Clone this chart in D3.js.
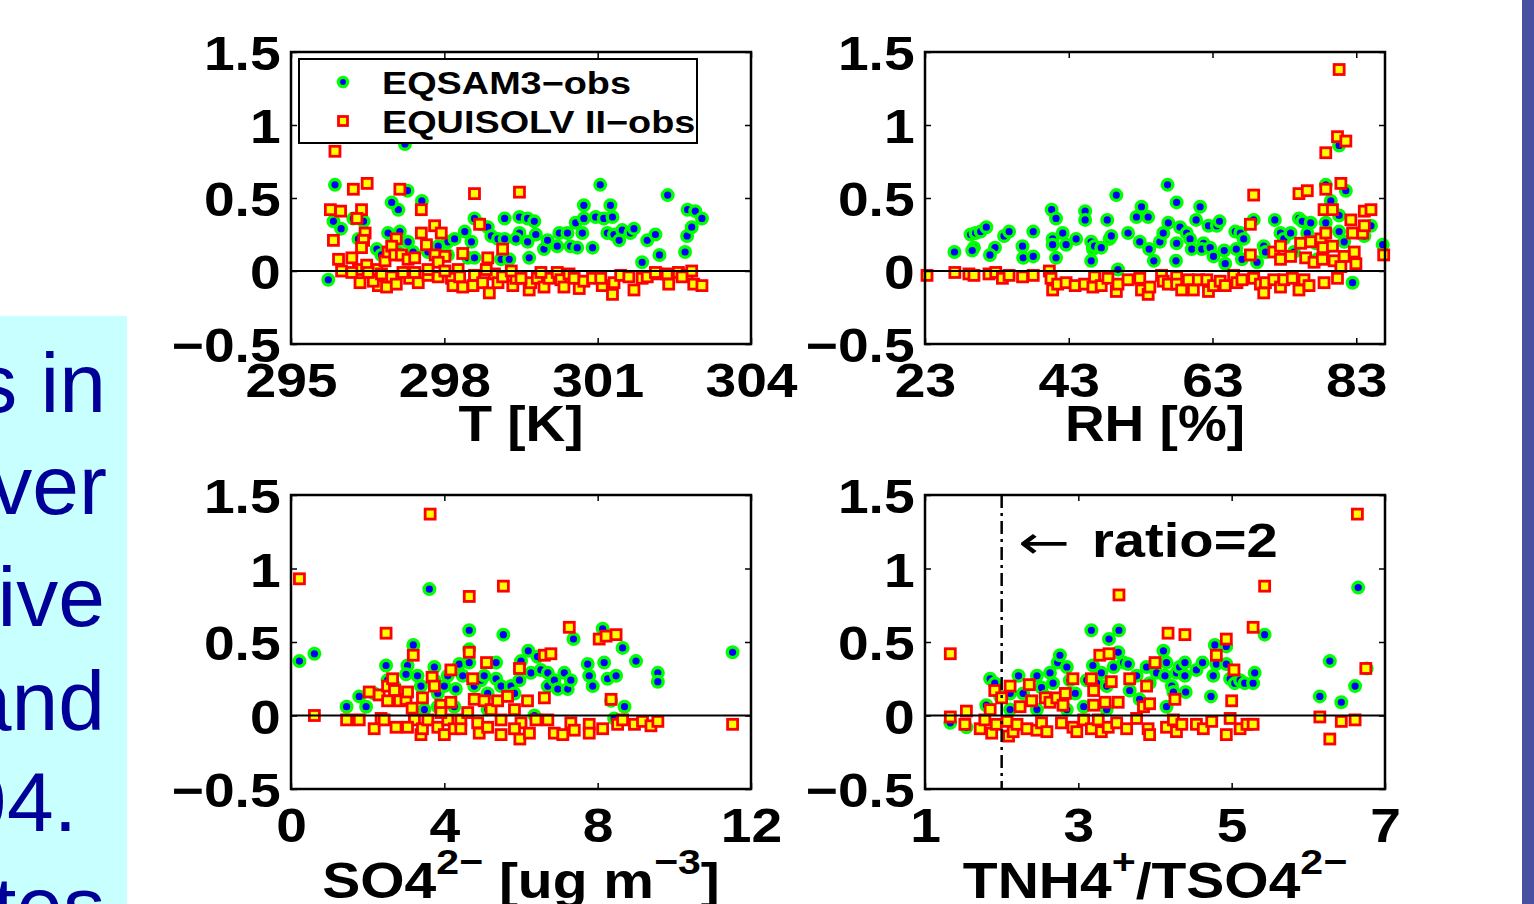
<!DOCTYPE html>
<html>
<head>
<meta charset="utf-8">
<script src="https://cdn.jsdelivr.net/npm/d3@7"></script>
<style>
  html, body { margin: 0; padding: 0; background: #fff; overflow: hidden; }
  svg { display: block; }
  text { white-space: pre; }
</style>
</head>
<body>
<svg id="vizarea"></svg>
<script>
'use strict';

const tempEqsam = [[295.73,-0.06],[295.86,0.59],[295.83,0.34],[295.98,0.29],[297.23,0.87],[297.28,0.55],[297.10,0.42],[296.97,0.47],[297.56,0.48],[296.22,0.36],[296.42,0.34],[296.32,0.22],[296.68,0.15],[296.90,0.26],[297.13,0.27],[297.29,0.20],[297.39,0.13],[298.07,0.20],[298.20,0.22],[298.40,0.27],[298.53,0.20],[298.59,0.36],[298.72,0.32],[298.85,0.30],[298.92,0.24],[299.05,0.22],[299.18,0.36],[299.18,0.22],[299.11,0.08],[299.27,0.08],[299.47,0.37],[299.63,0.36],[299.76,0.34],[299.47,0.26],[299.40,0.22],[299.63,0.20],[299.66,0.09],[299.79,0.25],[299.95,0.15],[300.02,0.21],[300.25,0.26],[300.21,0.17],[300.41,0.26],[300.47,0.17],[300.60,0.16],[300.70,0.26],[300.57,0.33],[300.73,0.36],[300.73,0.45],[300.90,0.16],[300.96,0.37],[301.05,0.59],[301.12,0.36],[301.25,0.45],[301.29,0.37],[301.19,0.26],[301.32,0.25],[301.42,0.21],[301.48,0.28],[301.64,0.26],[301.71,0.29],[301.87,0.06],[301.97,0.21],[302.13,0.25],[302.21,0.11],[302.37,0.52],[302.71,0.13],[302.75,0.24],[302.84,0.30],[302.76,0.42],[302.91,0.41],[303.04,0.36],[298.07,0.11],[298.46,0.09],[298.59,0.09],[297.68,0.13],[297.88,0.17],[296.77,0.11],[297.10,0.13]];
const tempEquisolv = [[295.86,0.82],[295.77,0.42],[295.97,0.41],[295.83,0.21],[295.93,0.08],[296.22,0.56],[296.49,0.60],[296.38,0.42],[296.29,0.36],[296.45,0.26],[296.42,0.21],[296.38,0.16],[296.19,0.09],[296.32,0.01],[295.99,0.00],[296.19,-0.01],[296.35,-0.08],[296.48,0.04],[296.68,0.01],[296.71,-0.10],[296.87,-0.11],[296.84,0.07],[296.90,0.13],[297.06,0.22],[296.97,0.17],[297.13,0.56],[297.03,0.11],[297.16,0.11],[297.29,0.08],[297.42,0.09],[297.55,0.26],[297.55,0.42],[297.65,0.18],[297.81,0.31],[297.94,0.26],[297.82,0.11],[298.01,0.10],[297.88,0.06],[298.36,0.12],[298.27,0.01],[298.59,0.53],[298.69,0.32],[298.85,0.09],[299.14,0.15],[299.47,0.54],[296.97,-0.04],[297.06,-0.09],[297.32,-0.05],[297.49,-0.08],[297.68,-0.03],[297.88,-0.04],[298.14,-0.05],[298.17,-0.10],[298.30,-0.04],[298.36,-0.11],[298.56,-0.10],[298.59,-0.03],[298.75,-0.08],[298.88,-0.15],[298.98,-0.02],[299.05,-0.08],[299.14,-0.04],[299.34,-0.10],[299.40,-0.05],[299.66,-0.13],[299.69,-0.08],[299.82,-0.05],[299.95,-0.11],[300.05,-0.05],[300.21,-0.01],[300.28,-0.06],[300.34,-0.11],[300.44,-0.02],[300.54,-0.05],[300.64,-0.12],[300.73,-0.07],[300.90,-0.05],[301.09,-0.10],[301.29,-0.16],[301.32,-0.08],[301.45,-0.03],[301.61,-0.04],[301.71,-0.13],[301.87,-0.05],[301.97,-0.04],[302.16,-0.02],[302.36,-0.02],[302.39,-0.09],[302.58,-0.01],[302.75,-0.03],[302.84,0.00],[302.88,-0.09],[303.04,-0.10],[302.65,-0.04],[296.61,-0.07],[296.51,-0.01],[296.77,-0.02],[297.19,-0.01],[297.42,-0.01],[297.68,0.01],[298.01,0.00],[298.82,0.01],[299.31,0.00],[299.50,-0.05],[299.89,-0.01],[301.06,-0.05],[302.13,-0.01]];

const rhEqsam = [[27.10,0.13],[29.34,0.25],[30.04,0.26],[30.74,0.27],[31.53,0.30],[29.81,0.16],[29.57,0.14],[32.74,0.16],[32.04,0.11],[34.00,0.24],[34.70,0.27],[36.57,0.17],[36.66,0.09],[38.06,0.27],[38.06,0.10],[40.62,0.42],[41.23,0.36],[40.76,0.22],[40.76,0.18],[41.23,0.09],[42.16,0.26],[42.63,0.18],[44.03,0.22],[45.28,0.41],[45.28,0.35],[46.12,0.20],[46.36,0.15],[46.12,0.07],[46.59,0.17],[47.52,0.16],[48.36,0.35],[48.69,0.22],[48.92,0.24],[49.62,0.52],[51.25,0.26],[52.42,0.37],[52.88,0.20],[53.12,0.44],[54.05,0.37],[54.19,0.15],[54.84,0.07],[55.68,0.20],[56.15,0.26],[56.85,0.33],[56.75,0.59],[57.92,0.07],[58.01,0.47],[58.01,0.19],[58.48,0.30],[59.41,0.26],[59.88,0.22],[60.11,0.15],[60.72,0.35],[61.28,0.44],[61.74,0.19],[61.51,0.15],[62.44,0.31],[62.67,0.16],[63.14,0.10],[63.61,0.31],[63.98,0.34],[64.63,0.14],[64.77,0.05],[66.17,0.27],[66.31,0.15],[66.87,0.26],[67.34,0.22],[67.10,0.08],[68.73,0.35],[69.20,0.06],[70.13,0.17],[70.37,0.13],[71.67,0.35],[72.46,0.26],[72.93,0.22],[73.86,0.26],[75.03,0.36],[75.49,0.34],[76.66,0.33],[76.19,0.26],[77.36,0.19],[78.76,0.59],[78.76,0.33],[79.46,0.48],[80.62,0.38],[80.62,0.27],[80.62,0.86],[81.55,0.55],[81.32,0.20],[82.49,-0.08],[84.12,0.24],[85.05,0.31],[86.68,0.18],[74.33,0.13],[77.59,0.08],[78.99,0.17],[49.85,0.01]];
const rhEquisolv = [[23.28,-0.03],[27.15,-0.01],[29.11,-0.02],[29.81,-0.03],[31.90,-0.02],[32.84,-0.01],[33.77,-0.05],[34.70,-0.03],[36.57,-0.04],[38.06,-0.03],[40.30,0.00],[40.53,-0.05],[40.76,-0.13],[41.46,-0.09],[42.63,-0.08],[43.89,-0.10],[45.19,-0.09],[46.36,-0.11],[46.59,-0.04],[47.52,-0.10],[48.45,-0.05],[49.62,-0.14],[49.85,-0.09],[51.25,-0.06],[52.88,-0.05],[53.12,-0.13],[54.05,-0.16],[54.28,-0.11],[55.91,-0.03],[56.15,-0.07],[56.85,-0.09],[58.01,-0.04],[58.01,-0.09],[58.71,-0.13],[59.64,-0.06],[60.34,-0.13],[61.04,-0.06],[62.21,-0.06],[62.44,-0.14],[63.14,-0.10],[64.07,-0.07],[64.77,-0.10],[65.94,-0.03],[66.40,-0.08],[67.10,-0.06],[68.73,-0.05],[69.67,-0.09],[70.13,-0.15],[70.37,-0.08],[71.53,-0.06],[72.46,-0.11],[72.93,-0.06],[74.10,-0.05],[75.03,-0.13],[75.73,-0.06],[76.43,-0.10],[78.52,-0.08],[80.39,-0.05],[68.27,0.32],[68.73,0.52],[68.27,0.11],[71.53,0.13],[72.46,0.17],[72.46,0.08],[73.86,0.10],[75.03,0.53],[76.19,0.55],[75.26,0.19],[75.96,0.09],[76.66,0.20],[77.13,0.06],[78.06,0.22],[78.38,0.16],[78.52,0.42],[78.76,0.26],[78.29,0.08],[78.76,0.56],[79.69,0.17],[79.69,0.42],[79.92,0.07],[78.76,0.81],[80.39,0.92],[81.55,0.89],[80.62,1.38],[80.86,0.60],[82.25,0.35],[82.49,0.26],[82.72,0.13],[82.95,0.05],[83.89,0.26],[84.12,0.31],[84.12,0.41],[85.05,0.42],[86.82,0.11],[81.32,0.10],[80.86,0.03]];

const so4Eqsam = [[0.22,0.37],[0.61,0.42],[1.45,0.06],[1.78,0.13],[1.96,0.06],[2.48,0.34],[2.52,0.24],[3.04,0.34],[3.00,0.28],[3.19,0.48],[3.30,0.27],[3.39,0.20],[3.74,0.33],[3.74,0.24],[3.83,0.15],[4.00,0.20],[4.09,0.27],[4.30,0.18],[4.39,0.35],[4.48,0.27],[4.65,0.58],[4.65,0.45],[4.65,0.36],[4.78,0.20],[4.96,0.24],[5.04,0.27],[5.13,0.15],[5.35,0.36],[5.35,0.25],[5.48,0.20],[5.54,0.55],[5.74,0.20],[5.83,0.15],[5.96,0.24],[6.00,0.37],[6.19,0.44],[6.26,0.29],[6.43,0.40],[6.52,0.31],[6.70,0.29],[6.70,0.20],[6.87,0.24],[6.96,0.18],[7.13,0.29],[7.22,0.18],[7.30,0.24],[7.37,0.52],[7.74,0.35],[7.78,0.27],[7.87,0.20],[8.13,0.59],[8.17,0.36],[8.26,0.25],[8.48,0.27],[8.35,0.10],[8.65,0.46],[8.70,0.06],[9.00,0.37],[9.57,0.29],[9.57,0.23],[11.52,0.43],[3.61,0.86],[6.35,0.00],[8.43,-0.02],[3.48,0.04],[3.83,0.06],[4.26,0.06],[5.13,0.04],[2.17,0.15],[2.70,0.20]];
const so4Equisolv = [[0.22,0.93],[0.61,0.00],[1.45,-0.03],[1.78,-0.03],[2.04,0.16],[2.17,-0.09],[2.30,0.14],[2.35,-0.02],[2.48,0.56],[2.52,0.20],[2.52,0.10],[2.65,0.25],[2.70,0.17],[2.74,-0.08],[2.83,0.10],[3.00,0.11],[3.04,0.16],[3.16,0.05],[3.19,0.41],[3.22,-0.03],[3.39,-0.13],[3.43,0.12],[3.43,-0.09],[3.57,-0.03],[3.68,0.26],[3.74,0.20],[3.63,1.37],[3.83,-0.08],[3.91,0.07],[4.00,-0.13],[4.09,-0.03],[4.17,0.31],[4.17,0.09],[4.26,-0.09],[4.43,-0.03],[4.43,-0.09],[4.65,0.43],[4.65,0.81],[4.74,0.25],[4.78,0.11],[4.87,-0.05],[4.91,-0.12],[5.04,0.10],[5.10,0.36],[5.22,0.04],[5.39,0.10],[5.48,-0.03],[5.48,-0.13],[5.54,0.88],[5.65,0.13],[5.83,0.04],[5.96,0.32],[6.00,-0.05],[5.97,-0.16],[6.17,0.10],[6.22,-0.12],[6.39,-0.03],[6.61,0.12],[6.61,0.41],[6.70,-0.03],[6.78,0.42],[6.87,-0.12],[7.09,-0.13],[7.26,0.60],[7.30,-0.05],[7.39,-0.10],[7.78,-0.06],[7.78,-0.12],[8.04,0.52],[8.13,-0.09],[8.22,0.54],[8.35,0.11],[8.48,0.55],[8.52,-0.06],[8.65,-0.03],[8.96,-0.06],[9.17,-0.04],[9.39,-0.07],[9.57,-0.04],[11.52,-0.06],[3.91,0.02],[4.61,0.02],[3.04,-0.08],[2.43,-0.03],[5.13,-0.08],[5.83,-0.09]];

const ratioEqsam = [[1.33,-0.05],[1.54,-0.08],[1.80,0.07],[1.85,0.25],[1.91,0.22],[1.98,0.13],[2.11,0.15],[2.22,0.27],[2.28,0.15],[2.46,0.27],[2.52,0.19],[2.57,0.13],[2.63,0.29],[2.67,0.22],[2.73,0.36],[2.76,0.41],[2.85,0.33],[2.89,0.24],[2.96,0.15],[3.07,0.06],[3.11,0.24],[3.17,0.58],[3.19,0.34],[3.24,0.22],[3.30,0.29],[3.37,0.20],[3.40,0.52],[3.46,0.33],[3.52,0.43],[3.53,0.58],[3.59,0.36],[3.65,0.35],[3.67,0.17],[3.76,0.27],[3.80,0.11],[3.89,0.33],[3.93,0.22],[4.02,0.29],[4.11,0.44],[4.13,0.27],[4.15,0.36],[4.22,0.20],[4.24,0.16],[4.28,0.29],[4.32,0.33],[4.39,0.36],[4.39,0.27],[4.40,0.16],[4.54,0.31],[4.62,0.36],[4.73,0.13],[4.76,0.27],[4.78,0.48],[4.80,0.35],[4.93,0.47],[4.93,0.35],[4.98,0.25],[5.04,0.22],[5.11,0.24],[5.17,0.22],[5.28,0.22],[5.30,0.29],[5.43,0.55],[6.15,0.13],[6.28,0.37],[6.43,0.09],[6.61,0.20],[6.65,0.87],[6.76,0.32],[4.15,0.06],[3.37,0.04],[2.85,0.04],[2.46,0.04],[2.11,0.04]];
const ratioEquisolv = [[1.33,0.42],[1.33,-0.01],[1.52,-0.06],[1.54,0.03],[1.72,-0.09],[1.78,-0.03],[1.85,0.04],[1.87,-0.12],[1.91,0.17],[1.93,-0.06],[2.00,0.12],[2.07,-0.04],[2.09,-0.14],[2.11,0.20],[2.15,-0.11],[2.20,-0.06],[2.24,0.06],[2.33,-0.09],[2.36,0.21],[2.39,0.10],[2.46,-0.10],[2.52,-0.05],[2.57,0.12],[2.59,-0.11],[2.63,0.09],[2.72,0.12],[2.78,-0.05],[2.80,0.07],[2.83,0.15],[2.93,0.25],[2.93,-0.08],[2.98,-0.11],[3.07,-0.03],[3.17,0.25],[3.20,0.17],[3.20,0.07],[3.17,-0.09],[3.26,-0.03],[3.30,-0.11],[3.28,0.41],[3.35,0.09],[3.39,-0.08],[3.40,0.42],[3.43,0.23],[3.50,-0.05],[3.52,0.09],[3.53,0.82],[3.63,-0.09],[3.67,0.25],[3.76,-0.02],[3.85,0.06],[3.89,0.20],[3.93,0.08],[3.91,-0.09],[3.93,-0.13],[4.00,0.36],[4.15,-0.08],[4.17,0.56],[4.24,-0.03],[4.26,0.11],[4.28,-0.11],[4.35,-0.06],[4.39,0.55],[4.54,-0.06],[4.63,-0.09],[4.74,-0.04],[4.80,0.41],[4.93,0.52],[4.93,-0.13],[4.98,-0.02],[5.00,0.10],[5.03,0.31],[5.11,-0.09],[5.20,-0.06],[5.28,-0.06],[5.28,0.60],[5.43,0.88],[6.15,-0.01],[6.28,-0.16],[6.43,-0.04],[6.61,-0.03],[6.64,1.37],[6.75,0.32]];

// Axis ticks and labels
const yTicks = [-0.5, 0, 0.5, 1, 1.5];
const tempTicks = [295, 298, 301, 304];
const rhTicks = [23, 43, 63, 83];
const so4Ticks = [0, 4, 8, 12];
const ratioTicks = [1, 3, 5, 7];

// Axis titles as [text, superscript?]
const tempTitle = [['T [K]', false]];
const rhTitle = [['RH [%]', false]];
const so4Title = [['SO4', false], ['2\u2212', true], [' [ug m', false], ['\u22123', true], [']', false]];
const ratioTitle = [['TNH4', false], ['+', true], ['/TSO4', false], ['2\u2212', true]];

const seriesNames = ['EQSAM3\u2212obs', 'EQUISOLV II\u2212obs'];
const ratioLine = 2;
const ratioNote = 'ratio=2';

// Slide text clipped at the left edge
const sideText = ['s in', 'ver', 'ive', 'and', '94.', 'tes'];

(function() {
  const width = 1534;
  const height = 904;
  const FONT = '"Liberation Sans", Arial, Helvetica, sans-serif';

  const svg = d3.select('#vizarea')
                .attr('width', width)
                .attr('height', height)
                .style('font-family', FONT);

  svg.append('rect').attr('width', width).attr('height', height).attr('fill', '#fff');

  // slide decoration
  svg.append('rect')
      .attr('x', 1522).attr('y', 0).attr('width', 12).attr('height', height)
      .attr('fill', '#48519f');
  svg.append('rect')
      .attr('x', 0).attr('y', 316).attr('width', 127).attr('height', height - 316)
      .attr('fill', '#c8ffff');

  const sideX = [106, 107, 105, 105, 77, 105];
  const sideY = [412, 514, 626, 730, 831, 935];
  svg.append('g').selectAll('text')
      .data(sideText)
      .enter()
      .append('text')
        .attr('x', (d, i) => sideX[i])
        .attr('y', (d, i) => sideY[i])
        .attr('text-anchor', 'end')
        .attr('font-size', 84)
        .attr('fill', '#000099')
        .text(d => d);

  const panels = [
    {left: 291, right: 751, top: 52, bottom: 344, domain: [295, 304], ticks: tempTicks,
     circles: tempEqsam, squares: tempEquisolv, title: tempTitle},
    {left: 925, right: 1385, top: 52, bottom: 344, domain: [23, 87], ticks: rhTicks,
     circles: rhEqsam, squares: rhEquisolv, title: rhTitle},
    {left: 291, right: 751, top: 495, bottom: 789, domain: [0, 12], ticks: so4Ticks,
     circles: so4Eqsam, squares: so4Equisolv, title: so4Title},
    {left: 925, right: 1385, top: 495, bottom: 789, domain: [1, 7], ticks: ratioTicks,
     circles: ratioEqsam, squares: ratioEquisolv, title: ratioTitle}
  ];

  const fmt = d => (d < 0 ? '\u2212' : '') + Math.abs(d);

  // marker styles
  function circleMark(sel) {
    sel.attr('r', 5.3)
       .attr('fill', '#0000ff')
       .attr('stroke', '#00ff00')
       .attr('stroke-width', 3.4);
  }
  function squareMark(sel) {
    sel.attr('width', 10)
       .attr('height', 10)
       .attr('fill', '#ffff00')
       .attr('stroke', '#ff0000')
       .attr('stroke-width', 2.8);
  }

  panels.forEach((p, idx) => {
    const x = d3.scaleLinear().domain(p.domain).range([p.left, p.right]);
    const y = d3.scaleLinear().domain([-0.5, 1.5]).range([p.bottom, p.top]);
    const g = svg.append('g');

    // circles for EQSAM3, squares for EQUISOLV II
    g.append('g').selectAll('circle')
        .data(p.circles)
        .enter()
        .append('circle')
          .attr('cx', d => x(d[0]))
          .attr('cy', d => y(d[1]))
          .call(circleMark);

    g.append('g').selectAll('rect')
        .data(p.squares)
        .enter()
        .append('rect')
          .attr('x', d => x(d[0]) - 5)
          .attr('y', d => y(d[1]) - 5)
          .call(squareMark);

    // zero line
    g.append('line')
        .attr('x1', x(p.domain[0])).attr('x2', x(p.domain[1]))
        .attr('y1', y(0)).attr('y2', y(0))
        .attr('stroke', '#000').attr('stroke-width', 2);

    if (idx === 3) {
      g.append('line')
          .attr('x1', x(ratioLine)).attr('x2', x(ratioLine))
          .attr('y1', p.top).attr('y2', p.bottom)
          .attr('stroke', '#000').attr('stroke-width', 2.5)
          .style('stroke-dasharray', '13 5 3 5');
    }

    // axes
    const yAxis = g.append('g')
        .attr('transform', `translate(${p.left},0)`)
        .call(d3.axisLeft(y).tickValues(yTicks).tickFormat(fmt).tickSizeInner(-6).tickSizeOuter(0).tickPadding(9));
    yAxis.selectAll('text').attr('dy', '0.37em').attr('transform', 'scale(1.15,1)');

    g.append('g')
        .attr('transform', `translate(${p.right},0)`)
        .call(d3.axisRight(y).tickValues(yTicks).tickFormat('').tickSizeInner(-6).tickSizeOuter(0));

    const xAxis = g.append('g')
        .attr('transform', `translate(0,${p.bottom})`)
        .call(d3.axisBottom(x).tickValues(p.ticks).tickFormat(d3.format('d')).tickSizeInner(-6).tickSizeOuter(0).tickPadding(19));
    xAxis.selectAll('text').attr('transform', 'scale(1.15,1)');

    g.append('g')
        .attr('transform', `translate(0,${p.top})`)
        .call(d3.axisTop(x).tickValues(p.ticks).tickFormat('').tickSizeInner(-6).tickSizeOuter(0));

    g.selectAll('.domain').remove();
    g.selectAll('.tick line').attr('stroke', '#000').attr('stroke-width', 1.5);
    g.selectAll('.tick text')
        .attr('fill', '#000')
        .attr('font-size', 48)
        .attr('font-weight', 'bold')
        .attr('font-family', FONT);

    g.append('rect')
        .attr('x', p.left).attr('y', p.top)
        .attr('width', p.right - p.left).attr('height', p.bottom - p.top)
        .attr('fill', 'none')
        .attr('stroke', '#000')
        .attr('stroke-width', 2.5);

    // axis title
    const title = g.append('text')
        .attr('transform', `translate(${(p.left + p.right) / 2},${p.bottom + (idx < 2 ? 97 : 109)}) scale(${idx < 2 ? 1.1 : 1.14},1)`)
        .attr('text-anchor', 'middle')
        .attr('font-size', 50)
        .attr('font-weight', 'bold');
    let raised = false;
    p.title.forEach(part => {
      const sup = part[1];
      const span = title.append('tspan').text(part[0]);
      if (sup && !raised) span.attr('dy', -24).attr('font-size', 36);
      else if (sup) span.attr('font-size', 36);
      else if (raised) span.attr('dy', 24);
      raised = sup;
    });

    if (idx === 3) {
      g.append('text')
          .attr('transform', 'translate(1018,558) scale(1.35,1)')
          .attr('font-family', '"DejaVu Sans", sans-serif')
          .attr('font-size', 46)
          .text('\u2190');
      g.append('text')
          .attr('transform', 'translate(1092,557) scale(1.17,1)')
          .attr('font-size', 48)
          .attr('font-weight', 'bold')
          .text(ratioNote);
    }

    // legend in the first panel
    if (idx === 0) {
      const legend = g.append('g');
      legend.append('rect')
          .attr('x', 299).attr('y', 59).attr('width', 398).attr('height', 84)
          .attr('fill', '#fff').attr('stroke', '#000').attr('stroke-width', 2);
      legend.append('circle')
          .attr('cx', 343).attr('cy', 82)
          .call(circleMark)
          .attr('r', 4.6);
      legend.append('rect')
          .attr('x', 338.5).attr('y', 116.5)
          .call(squareMark)
          .attr('width', 9).attr('height', 9);
      legend.selectAll('text.lab')
          .data(seriesNames)
          .enter()
          .append('text')
            .attr('class', 'lab')
            .attr('transform', (d, i) => `translate(382,${94 + i * 39}) scale(1.22,1)`)
            .attr('font-size', 31)
            .attr('font-weight', 'bold')
            .text(d => d);
    }
  });
})();
</script>
</body>
</html>
